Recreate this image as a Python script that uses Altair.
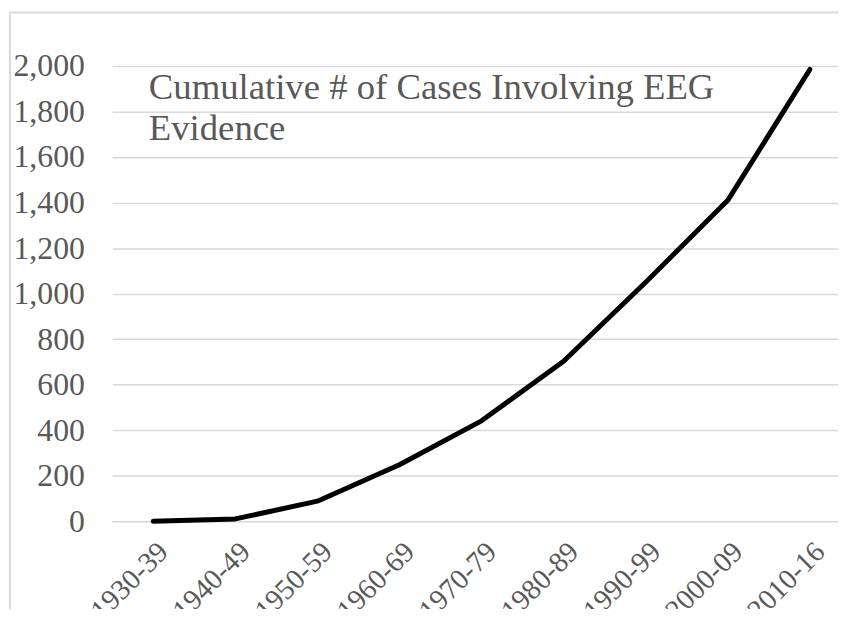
import altair as alt
import pandas as pd

periods = ["1930-39", "1940-49", "1950-59", "1960-69", "1970-79",
           "1980-89", "1990-99", "2000-09", "2010-16"]
cumulative_cases = [0, 10, 88, 248, 441, 703, 1050, 1410, 1985]
y_ticks = [0, 200, 400, 600, 800, 1000, 1200, 1400, 1600, 1800, 2000]
title_lines = ["Cumulative # of Cases Involving EEG", "Evidence"]

df = pd.DataFrame({"period": periods, "cases": cumulative_cases})

FONT = "Liberation Serif"
TEXT_COLOR = "#595959"
GRID = "#d9d9d9"
W, H = 712, 459

line = alt.Chart(df).mark_line(
    color="black", strokeWidth=5, strokeCap="round", strokeJoin="round"
).encode(
    x=alt.X("period:O", sort=periods,
            scale=alt.Scale(type="point", padding=0.5, range=[0, 745]),
            axis=alt.Axis(title=None, labelAngle=-45, labelAlign="right",
                          labelBaseline="top", labelPadding=16, labelFontSize=29,
                          labelFont=FONT, labelColor=TEXT_COLOR, ticks=False,
                          domain=False, grid=False)),
    y=alt.Y("cases:Q", scale=alt.Scale(domain=[0, 2000], nice=False),
            axis=alt.Axis(title=None, values=y_ticks, format=",d", labelFontSize=32,
                          labelFont=FONT, labelColor=TEXT_COLOR, labelPadding=28,
                          ticks=False, domain=False, grid=True, gridColor=GRID,
                          gridWidth=1.5)),
)

frame_df = pd.DataFrame({"k": [0]})
left_border = alt.Chart(frame_df).mark_rule(color=GRID, strokeWidth=2).encode(
    x=alt.value(-103), y=alt.value(-54), y2=alt.value(H + 120)
)
top_border = alt.Chart(frame_df).mark_rule(color=GRID, strokeWidth=2).encode(
    x=alt.value(-103), x2=alt.value(W + 40), y=alt.value(-54)
)
title_text = alt.Chart(frame_df).mark_text(
    font=FONT, fontSize=37, color=TEXT_COLOR, align="left",
    baseline="alphabetic", lineHeight=42
).encode(
    x=alt.value(37), y=alt.value(33), text=alt.value(title_lines)
)

chart = alt.layer(left_border, top_border, line, title_text).properties(
    width=W, height=H,
    autosize=alt.AutoSizeParams(type="none"),
    padding={"left": 105, "top": 56, "right": 20, "bottom": 86},
).configure(font=FONT).configure_text(font=FONT).configure_view(strokeWidth=0)

chart.save("out.html", embed_options={"renderer": "svg", "actions": False})
